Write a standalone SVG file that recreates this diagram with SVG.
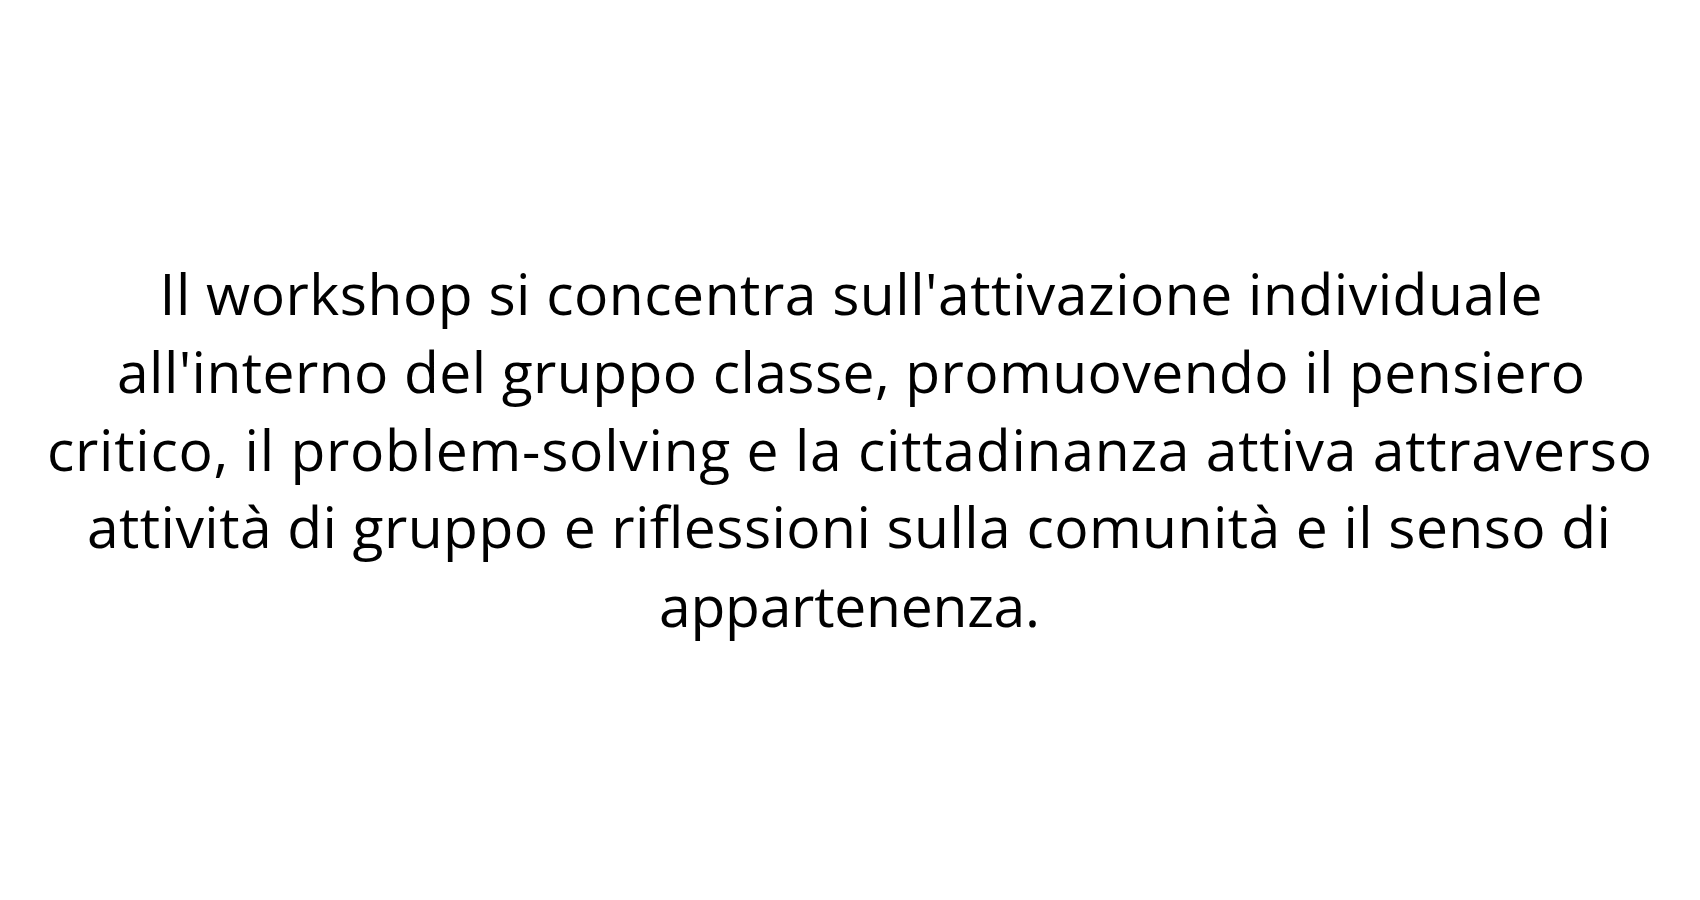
<svg xmlns="http://www.w3.org/2000/svg" width="1700" height="900" viewBox="0 0 1700 900">
<style>
.t { font-family: "Open Sans", "Noto Sans", sans-serif; font-size: 57px; fill: #000000; text-anchor: middle; }
</style>
<rect x="0" y="0" width="1700" height="900" fill="#ffffff"/>
<g id="paragraph">
<text class="t" x="851" y="315" textLength="1383">Il workshop si concentra sull'attivazione individuale</text>
<text class="t" x="851" y="393" textLength="1468">all'interno del gruppo classe, promuovendo il pensiero</text>
<text class="t" x="849.5" y="470.7" textLength="1605">critico, il problem-solving e la cittadinanza attiva attraverso</text>
<text class="t" x="849" y="548.3" textLength="1524">attività di gruppo e riflessioni sulla comunità e il senso di</text>
<text class="t" x="849.5" y="627" textLength="381">appartenenza.</text>
</g>
</svg>
